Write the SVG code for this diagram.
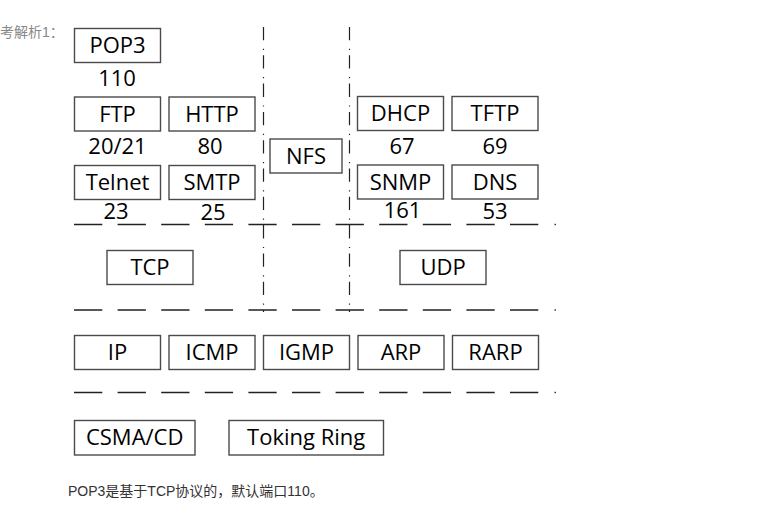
<svg xmlns="http://www.w3.org/2000/svg" width="762" height="527" viewBox="0 0 762 527">
<style>
.box rect{fill:#fff;stroke:#4a4a4a;stroke-width:1.4}
.box text,.lbl{font-family:"Open Sans","Noto Sans",sans-serif;font-size:22px;fill:#000;text-anchor:middle}
.h{stroke:#222;stroke-width:1.5;stroke-dasharray:28.3 15.3;fill:none}
.v{stroke:#222;stroke-width:1.2;stroke-dasharray:13.3 8.5 1.2 5.3;fill:none}
.note{font-family:"Liberation Sans","Noto Sans CJK SC",sans-serif;font-size:14px}
</style>
<rect width="762" height="527" fill="#fff"/>
<text class="note" x="0" y="37" font-size="13" fill="#888">考解析1：</text>
<g id="connectors">
<line class="v" x1="263.5" y1="27" x2="263.5" y2="312"/>
<line class="v" x1="349.5" y1="27" x2="349.5" y2="312"/>
<line class="h" x1="74" y1="224.5" x2="539" y2="224.5"/>
<line class="h" x1="74" y1="310" x2="539" y2="310"/>
<line class="h" x1="74" y1="392.5" x2="539" y2="392.5"/>
<rect x="554.5" y="223.8" width="1.4" height="1.4" fill="#222"/>
<rect x="554.5" y="309.3" width="1.4" height="1.4" fill="#222"/>
<rect x="554.5" y="391.8" width="1.4" height="1.4" fill="#222"/>
</g>
<g id="pop3" class="box"><rect x="74.5" y="28.5" width="86" height="34"/><text x="117.5" y="53">POP3</text></g>
<g id="ftp" class="box"><rect x="74.5" y="97" width="86" height="34"/><text x="117.5" y="121.5">FTP</text></g>
<g id="http" class="box"><rect x="169" y="97" width="86" height="34"/><text x="212" y="121.5">HTTP</text></g>
<g id="telnet" class="box"><rect x="74.5" y="165.5" width="86" height="34"/><text x="117.5" y="190">Telnet</text></g>
<g id="smtp" class="box"><rect x="169" y="165.5" width="86" height="34"/><text x="212" y="190">SMTP</text></g>
<g id="nfs" class="box"><rect x="270" y="139" width="72" height="34"/><text x="306" y="163.5">NFS</text></g>
<g id="dhcp" class="box"><rect x="357.5" y="96.5" width="86" height="34"/><text x="400.5" y="121">DHCP</text></g>
<g id="tftp" class="box"><rect x="452" y="96.5" width="86" height="34"/><text x="495" y="121">TFTP</text></g>
<g id="snmp" class="box"><rect x="357.5" y="165" width="86" height="34"/><text x="400.5" y="189.5">SNMP</text></g>
<g id="dns" class="box"><rect x="452" y="165" width="86" height="34"/><text x="495" y="189.5">DNS</text></g>
<g id="tcp" class="box"><rect x="107" y="250.5" width="86" height="34"/><text x="150" y="275">TCP</text></g>
<g id="udp" class="box"><rect x="400" y="250.5" width="86" height="34"/><text x="443" y="275">UDP</text></g>
<g id="ip" class="box"><rect x="74.5" y="335.5" width="86" height="34"/><text x="117.5" y="360">IP</text></g>
<g id="icmp" class="box"><rect x="169" y="335.5" width="86" height="34"/><text x="212" y="360">ICMP</text></g>
<g id="igmp" class="box"><rect x="263.5" y="335.5" width="86" height="34"/><text x="306.5" y="360">IGMP</text></g>
<g id="arp" class="box"><rect x="358" y="335.5" width="86" height="34"/><text x="401" y="360">ARP</text></g>
<g id="rarp" class="box"><rect x="452.5" y="335.5" width="86" height="34"/><text x="495.5" y="360">RARP</text></g>
<g id="csma" class="box"><rect x="74.5" y="420.5" width="120.5" height="34.5"/><text x="134.7" y="445">CSMA/CD</text></g>
<g id="token" class="box"><rect x="229" y="420.5" width="154.5" height="34.5"/><text x="306.2" y="445">Toking Ring</text></g>
<g id="ports">
<text class="lbl" x="117" y="86">110</text>
<text class="lbl" x="117.5" y="153.5">20/21</text>
<text class="lbl" x="210" y="153.5">80</text>
<text class="lbl" x="116" y="218.5">23</text>
<text class="lbl" x="213" y="219.5">25</text>
<text class="lbl" x="402" y="153.5">67</text>
<text class="lbl" x="495" y="153.5">69</text>
<text class="lbl" x="402.5" y="217.5">161</text>
<text class="lbl" x="495" y="218.5">53</text>
</g>
<text class="note" x="68" y="496" fill="#333">POP3是基于TCP协议的，默认端口110。</text>
</svg>
